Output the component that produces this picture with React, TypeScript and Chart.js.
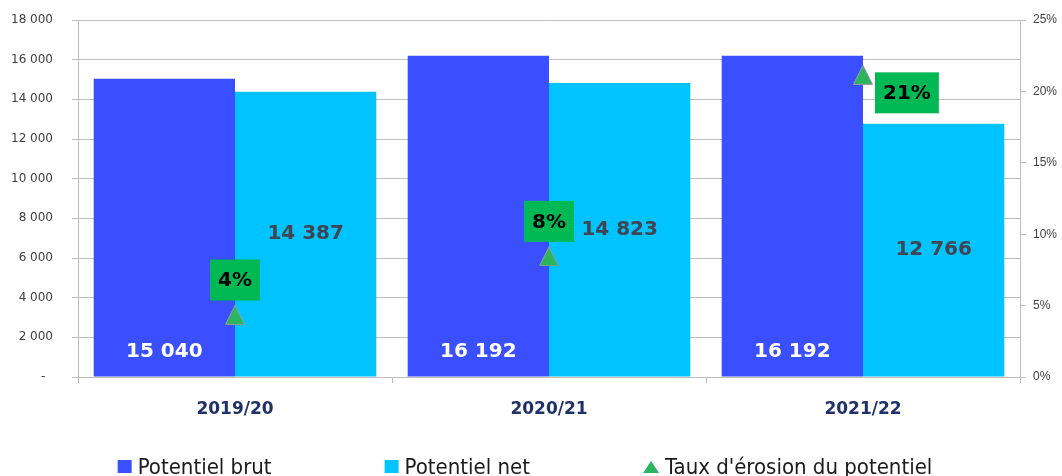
import React, { useEffect, useRef } from "react";
import { Chart, registerables } from "chart.js";

Chart.register(...registerables);

const categories = ["2019/20", "2020/21", "2021/22"];
const potentielBrut = [15040, 16192, 16192];
const potentielNet = [14387, 14823, 12766];
const tauxErosion = [0.0434, 0.0845, 0.2116];
const tauxLabels = ["4%", "8%", "21%"];
const tauxLabelPlacement = ["above", "above", "right"];
const seriesNames = ["Potentiel brut", "Potentiel net", "Taux d'érosion du potentiel"];

const BLUE = "#3A4FFF";
const CYAN = "#00C3FF";
const GREEN_PT = "#2BB55E";
const GREEN_BOX = "#00B954";
const GRID = "#BDBDBD";

const fmt = (v: number) => {
  if (v === 0) return "-  ";
  return String(v).replace(/\B(?=(\d{3})+(?!\d))/g, " ");
};
const fmtLabel = (v: number) => String(v).replace(/\B(?=(\d{3})+(?!\d))/g, " ");

function makeTriangle(): HTMLCanvasElement {
  const c = document.createElement("canvas");
  c.width = 20;
  c.height = 20;
  const g = c.getContext("2d")!;
  g.beginPath();
  g.moveTo(10, 0.5);
  g.lineTo(19.5, 19.5);
  g.lineTo(0.5, 19.5);
  g.closePath();
  g.fillStyle = GREEN_PT;
  g.fill();
  g.strokeStyle = "#9A9A9A";
  g.lineWidth = 1;
  g.stroke();
  return c;
}

const labelsPlugin = {
  id: "valueLabels",
  afterDatasetsDraw(chart: any) {
    const ctx = chart.ctx;
    ctx.save();
    ctx.textAlign = "center";
    ctx.textBaseline = "middle";
    ctx.font = "bold 20px 'DejaVu Sans'";
    const m0 = chart.getDatasetMeta(0);
    m0.data.forEach((el: any, i: number) => {
      ctx.fillStyle = "#FFFFFF";
      ctx.fillText(fmtLabel(potentielBrut[i]), el.x, el.base - 25);
    });
    const m1 = chart.getDatasetMeta(1);
    m1.data.forEach((el: any, i: number) => {
      ctx.fillStyle = "#404552";
      ctx.fillText(fmtLabel(potentielNet[i]), el.x, (el.y + el.base) / 2);
    });
    const m2 = chart.getDatasetMeta(2);
    m2.data.forEach((el: any, i: number) => {
      const txt = tauxLabels[i];
      const w = ctx.measureText(txt).width + 16;
      const h = 41;
      let cx = el.x;
      let cy = el.y - 35;
      if (tauxLabelPlacement[i] === "right") {
        cx = el.x + 12 + w / 2;
        cy = el.y + 18;
      }
      ctx.fillStyle = GREEN_BOX;
      ctx.fillRect(cx - w / 2, cy - h / 2, w, h);
      ctx.fillStyle = "#000000";
      ctx.fillText(txt, cx, cy + 1);
    });
    ctx.restore();
  },
};

const legendPlugin = {
  id: "customLegend",
  afterDraw(chart: any) {
    const ctx = chart.ctx;
    ctx.save();
    ctx.font = "22px 'Liberation Sans Narrow', 'DejaVu Sans Condensed', sans-serif";
    ctx.textBaseline = "alphabetic";
    ctx.textAlign = "left";
    const gapText = 6;
    const gapItem = 113;
    const items = chart.data.datasets.map((d: any) => ({
      text: d.label,
      color: d.backgroundColor,
      tri: d.type === "line",
    }));
    const markerW = (it: any) => (it.tri ? 16 : 14);
    const widths = items.map((it: any) => markerW(it) + gapText + ctx.measureText(it.text).width);
    const total = widths.reduce((a: number, b: number) => a + b, 0) + gapItem * (items.length - 1);
    let x = chart.width / 2 - total / 2 - 6;
    const base = chart.height - 2;
    items.forEach((it: any, i: number) => {
      ctx.fillStyle = it.color;
      const mw = markerW(it);
      if (it.tri) {
        ctx.beginPath();
        ctx.moveTo(x + mw / 2, base - 13);
        ctx.lineTo(x + mw, base - 1);
        ctx.lineTo(x, base - 1);
        ctx.closePath();
        ctx.fill();
      } else {
        ctx.fillRect(x, base - 14, mw, 13);
      }
      ctx.fillStyle = "#1A1A1A";
      ctx.fillText(it.text, x + mw + gapText, base);
      x += widths[i] + gapItem;
    });
    ctx.restore();
  },
};

export default function App() {
  const ref = useRef<HTMLCanvasElement | null>(null);
  useEffect(() => {
    document.body.style.margin = "0";
    const canvas = ref.current;
    if (!canvas) return;
    const tri = makeTriangle();
    const chart = new Chart(canvas, {
      type: "bar",
      data: {
        labels: categories,
        datasets: [
          {
            type: "bar",
            label: seriesNames[0],
            data: potentielBrut,
            backgroundColor: BLUE,
            yAxisID: "y",
            order: 2,
            categoryPercentage: 0.9,
            barPercentage: 1.0,
          },
          {
            type: "bar",
            label: seriesNames[1],
            data: potentielNet,
            backgroundColor: CYAN,
            yAxisID: "y",
            order: 2,
            categoryPercentage: 0.9,
            barPercentage: 1.0,
          },
          {
            type: "line",
            label: seriesNames[2],
            data: tauxErosion,
            yAxisID: "y1",
            showLine: false,
            pointStyle: tri,
            pointRadius: 10,
            pointHoverRadius: 10,
            backgroundColor: GREEN_PT,
            borderColor: GREEN_PT,
            order: 0,
          } as any,
        ],
      },
      options: {
        animation: false,
        responsive: false,
        layout: { padding: { top: 20, left: 0, right: 0, bottom: 40 } },
        plugins: {
          legend: { display: false },
          tooltip: { enabled: false },
        },
        scales: {
          x: {
            grid: {
              offset: true,
              drawOnChartArea: false,
              tickLength: 6,
              color: GRID,
            },
            border: { display: true, color: GRID },
            ticks: {
              color: "#1F3168",
              font: { family: "'DejaVu Sans'", size: 17, weight: "bold" },
              padding: 16,
            },
            afterFit: (s: any) => {
              s.height = 59;
              s.paddingLeft = 0;
              s.paddingRight = 0;
            },
          },
          y: {
            position: "left",
            min: 0,
            max: 18000,
            ticks: {
              stepSize: 2000,
              color: "#404040",
              font: { family: "'DejaVu Sans'", size: 12 },
              padding: 19,
              callback: (v: any) => fmt(Number(v)),
            },
            grid: { color: GRID, tickLength: 6 },
            border: { display: true, color: GRID },
            afterFit: (s: any) => {
              s.width = 78;
              s.paddingTop = 0;
              s.paddingBottom = 0;
            },
          },
          y1: {
            position: "right",
            min: 0,
            max: 0.25,
            ticks: {
              stepSize: 0.05,
              color: "#404040",
              font: { family: "'Liberation Sans'", size: 12 },
              padding: 7,
              callback: (v: any) => Math.round(Number(v) * 100) + "%",
            },
            grid: { drawOnChartArea: false, color: GRID, tickLength: 6 },
            border: { display: true, color: GRID },
            afterFit: (s: any) => {
              s.width = 42;
              s.paddingTop = 0;
              s.paddingBottom = 0;
            },
          },
        },
      },
      plugins: [labelsPlugin, legendPlugin],
    } as any);
    return () => chart.destroy();
  }, []);
  return (
    <div style={{ width: 1062, height: 476 }}>
      <canvas ref={ref} width={1062} height={476} style={{ display: "block" }} />
    </div>
  );
}
